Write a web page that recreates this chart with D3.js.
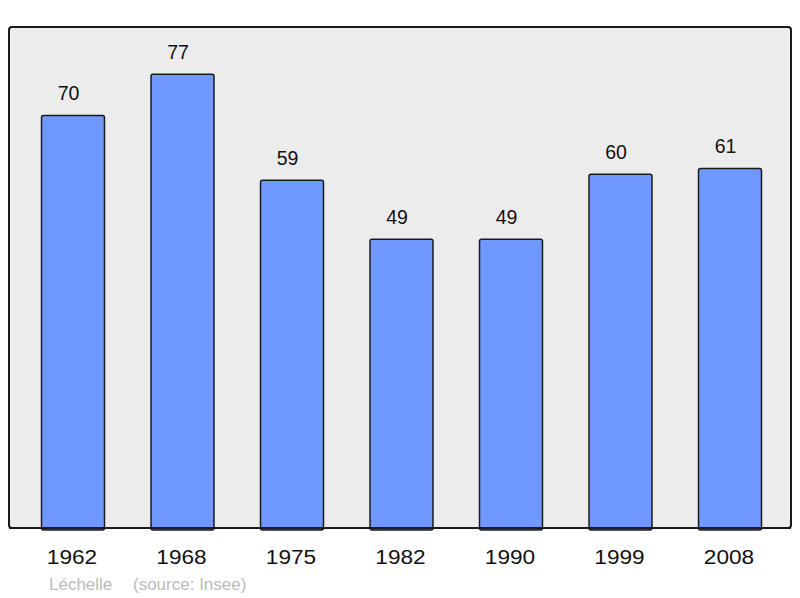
<!DOCTYPE html>
<html>
<head>
<meta charset="utf-8">
<script src="https://cdn.jsdelivr.net/npm/d3@7"></script>
<style>
  body { margin: 0; background: #fff; }
  svg text { font-family: "Liberation Sans", Arial, sans-serif; }
</style>
</head>
<body>
<div id="chart"></div>
<script>
var years = ["1962", "1968", "1975", "1982", "1990", "1999", "2008"];
var population = [70, 77, 59, 49, 49, 60, 61];
var yMax = 85;

var width = 800,
    height = 598,
    panel = { left: 9, top: 27, right: 791, bottom: 528 };

var svg = d3.select("#chart").append("svg")
    .attr("width", width)
    .attr("height", height);

// background panel
svg.append("rect")
    .attr("x", panel.left)
    .attr("y", panel.top)
    .attr("width", panel.right - panel.left)
    .attr("height", panel.bottom - panel.top)
    .attr("rx", 3)
    .style("fill", "#ececec")
    .style("stroke", "#1a1a1a")
    .style("stroke-width", 2);

var x = d3.scaleBand()
    .domain(years)
    .range([18.25, 784.75])
    .paddingInner(0.425)
    .paddingOuter(0.2125);

var y = d3.scaleLinear()
    .domain([0, yMax])
    .range([panel.bottom, panel.top]);

var data = years.map(function(d, i) { return { year: d, value: population[i] }; });

svg.selectAll(".bar")
    .data(data)
  .enter().append("rect")
    .attr("class", "bar")
    .attr("x", function(d) { return x(d.year); })
    .attr("y", function(d) { return y(d.value); })
    .attr("width", x.bandwidth())
    .attr("height", function(d) { return panel.bottom - y(d.value) + 2; })
    .attr("rx", 2)
    .style("fill", "#7099ff")
    .style("stroke", "#1a1a1a")
    .style("stroke-width", 1.5);

// redraw bottom edge over the bars
svg.append("line")
    .attr("x1", panel.left)
    .attr("x2", panel.right)
    .attr("y1", panel.bottom)
    .attr("y2", panel.bottom)
    .style("stroke", "#1a1a1a")
    .style("stroke-width", 2);

// value labels sit a little left of the bar centre
svg.selectAll(".value")
    .data(data)
  .enter().append("text")
    .attr("class", "value")
    .attr("x", function(d) { return x(d.year) + x.bandwidth() / 2 - 4.5; })
    .attr("y", function(d) { return y(d.value) - 15.5; })
    .attr("text-anchor", "middle")
    .style("font-size", "19.5px")
    .style("fill", "#111")
    .text(function(d) { return d.value; });

// year labels, slightly stretched horizontally
svg.selectAll(".year")
    .data(years)
  .enter().append("text")
    .attr("class", "year")
    .attr("transform", function(d) {
      return "translate(" + (x(d) + x.bandwidth() / 2 - 1) + ",564) scale(1.16,1)";
    })
    .attr("text-anchor", "middle")
    .style("font-size", "19.5px")
    .style("fill", "#111")
    .text(function(d) { return d; });

svg.append("text")
    .attr("x", 49)
    .attr("y", 590)
    .style("font-size", "17px")
    .style("fill", "#bbb")
    .text("Léchelle");

svg.append("text")
    .attr("x", 133)
    .attr("y", 590)
    .style("font-size", "17px")
    .style("fill", "#bbb")
    .text("(source: Insee)");
</script>
</body>
</html>
